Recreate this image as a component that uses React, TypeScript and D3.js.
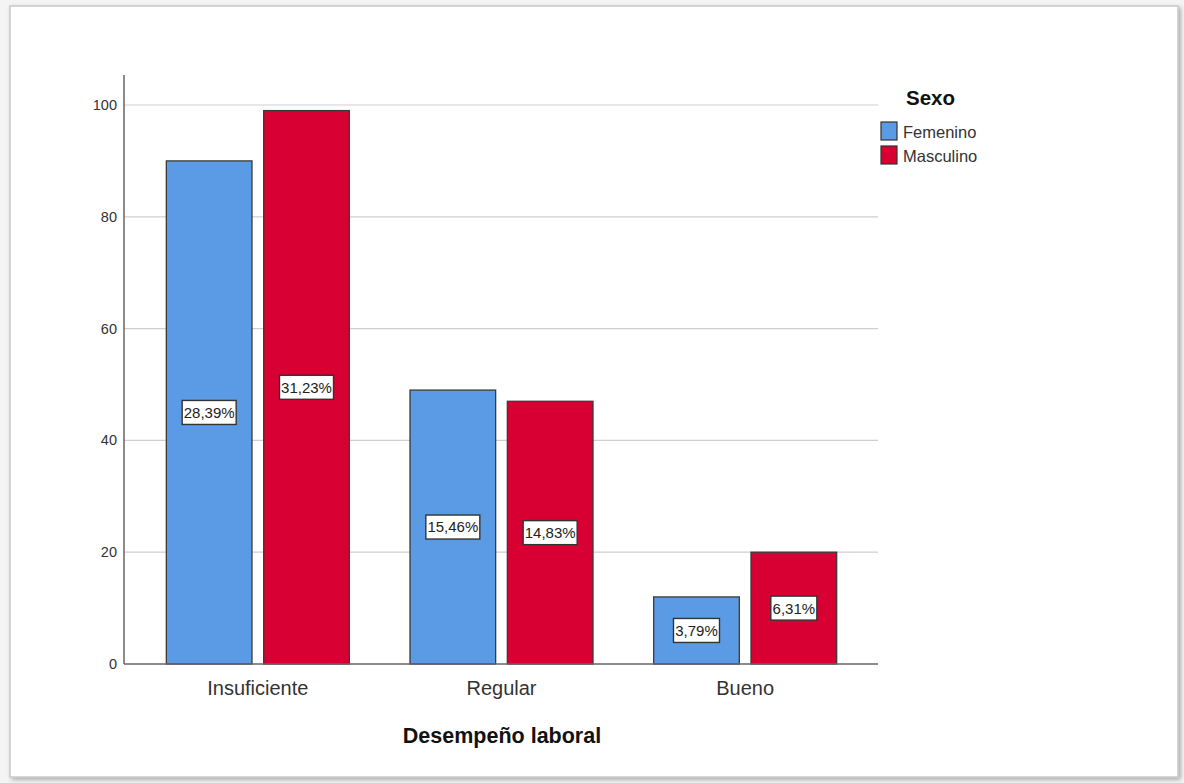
import React from "react";
import * as d3 from "d3";

const categories = ["Insuficiente", "Regular", "Bueno"];
const seriesNames = ["Femenino", "Masculino"];
const femenino = [90, 49, 12];
const masculino = [99, 47, 20];
const femeninoPct = ["28,39%", "15,46%", "3,79%"];
const masculinoPct = ["31,23%", "14,83%", "6,31%"];
const yTicks = [0, 20, 40, 60, 80, 100];
const colors = ["#5b9be6", "#d80032"];

const W = 1184;
const H = 783;
const FONT = "'Liberation Sans', Arial, sans-serif";

export default function App() {
  const y = d3.scaleLinear().domain([0, 100]).range([664, 105]);
  const x0 = d3.scaleBand().domain(categories).range([136, 867]).paddingInner(0).paddingOuter(0);
  const x1 = d3.scaleBand().domain(seriesNames).range([0, 183]).paddingInner(0.12);
  const pairOffset = (x0.bandwidth() - 183) / 2;

  const values = [femenino, masculino];
  const pcts = [femeninoPct, masculinoPct];

  return (
    <svg
      width={W}
      height={H}
      style={{ position: "absolute", left: 0, top: 0, fontFamily: FONT }}
    >
      <defs>
        <filter id="shadow" x="-5%" y="-5%" width="110%" height="110%">
          <feDropShadow dx="2" dy="2" stdDeviation="2" floodColor="#000" floodOpacity="0.3" />
        </filter>
      </defs>
      <rect x={0} y={0} width={W} height={H} fill="#f4f4f4" />
      <rect
        x={10}
        y={6}
        width={1168}
        height={771}
        fill="#ffffff"
        stroke="#c8c8c8"
        strokeWidth={1.5}
        filter="url(#shadow)"
      />

      {/* gridlines and y ticks */}
      {yTicks.map((t) => (
        <g key={t}>
          {t > 0 && (
            <line x1={124} x2={878} y1={y(t)} y2={y(t)} stroke="#cfcfcf" strokeWidth={1.2} />
          )}
          <text
            x={117}
            y={y(t)}
            dy="0.35em"
            textAnchor="end"
            fontSize={14.5}
            fill="#333"
          >
            {t}
          </text>
        </g>
      ))}

      {/* bars */}
      {categories.map((c, i) => (
        <g key={c} transform={`translate(${(x0(c) as number) + pairOffset},0)`}>
          {seriesNames.map((s, j) => {
            const v = values[j][i];
            const bx = x1(s) as number;
            const bw = x1.bandwidth();
            const mid = (y(v) + y(0)) / 2;
            const label = pcts[j][i];
            const lw = label.length * 8 + 6;
            return (
              <g key={s}>
                <rect
                  x={bx}
                  y={y(v)}
                  width={bw}
                  height={y(0) - y(v)}
                  fill={colors[j]}
                  stroke="#3a3a3a"
                  strokeWidth={1.3}
                />
                <rect
                  x={bx + bw / 2 - lw / 2}
                  y={mid - 12}
                  width={lw}
                  height={24}
                  fill="#fff"
                  stroke="#333"
                  strokeWidth={1.4}
                />
                <text
                  x={bx + bw / 2}
                  y={mid}
                  dy="0.36em"
                  textAnchor="middle"
                  fontSize={15}
                  fill="#222"
                >
                  {label}
                </text>
              </g>
            );
          })}
        </g>
      ))}

      {/* axes */}
      <line x1={124} x2={124} y1={75} y2={664} stroke="#666" strokeWidth={1.5} />
      <line x1={124} x2={878} y1={664} y2={664} stroke="#666" strokeWidth={1.5} />

      {categories.map((c) => (
        <text
          key={c}
          x={(x0(c) as number) + x0.bandwidth() / 2}
          y={688}
          dy="0.35em"
          textAnchor="middle"
          fontSize={20}
          fill="#333"
        >
          {c}
        </text>
      ))}

      <text x={502} y={735} dy="0.35em" textAnchor="middle" fontSize={21.5} fontWeight="bold" fill="#111">
        Desempeño laboral
      </text>

      {/* legend */}
      <text x={906} y={98} dy="0.35em" fontSize={20.5} fontWeight="bold" fill="#111">
        Sexo
      </text>
      {seriesNames.map((s, j) => (
        <g key={s} transform={`translate(881,${122 + j * 24})`}>
          <rect x={0} y={0} width={16} height={18} fill={colors[j]} stroke="#333" strokeWidth={1.2} />
          <text x={22} y={10} dy="0.35em" fontSize={16.5} fill="#333">
            {s}
          </text>
        </g>
      ))}
    </svg>
  );
}
